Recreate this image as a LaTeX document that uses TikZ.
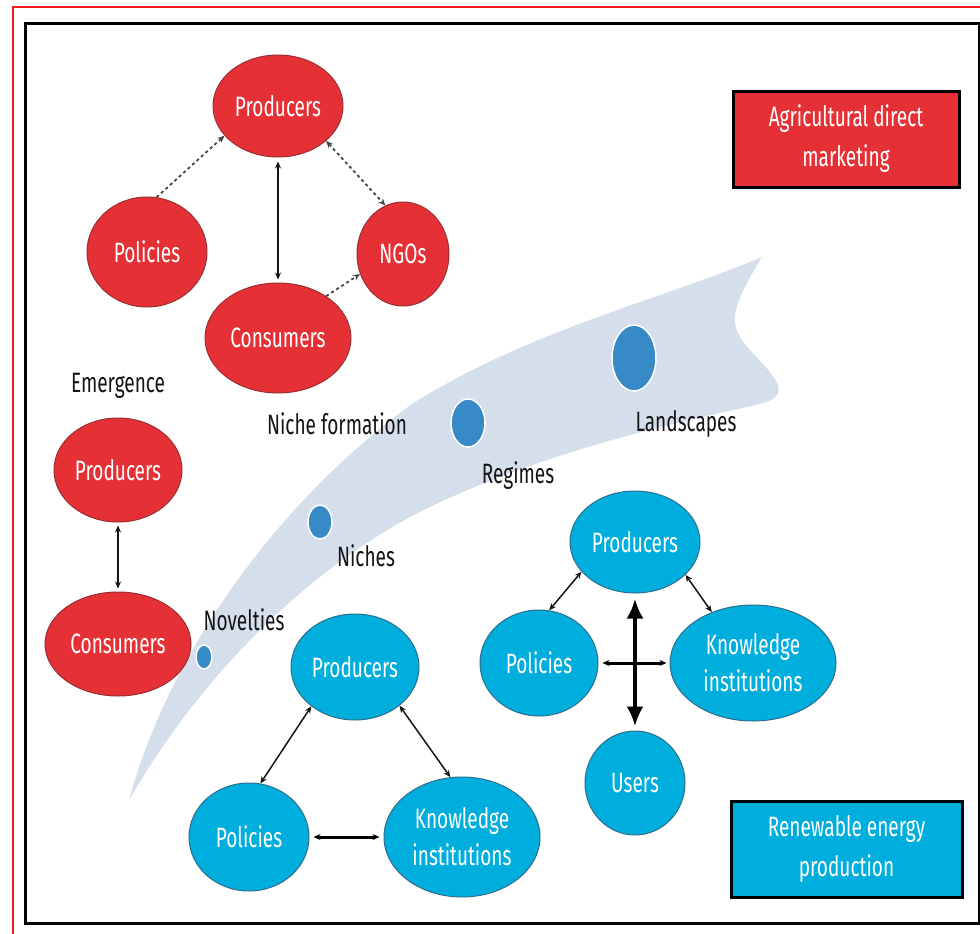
\documentclass[tikz,border=0pt]{standalone}
\usepackage{fontspec}
\setmainfont[FakeStretch=0.68]{Fira Sans}
\usetikzlibrary{shapes.geometric,arrows.meta}
\definecolor{agred}{HTML}{E53136}
\definecolor{agredline}{HTML}{9A2E32}
\definecolor{rebl}{HTML}{00AEDE}
\definecolor{reblline}{HTML}{2E6E8C}
\definecolor{dotbl}{HTML}{378AC6}
\definecolor{swoosh}{HTML}{D5DEEB}
\definecolor{framered}{HTML}{F01E1E}
\definecolor{ink}{HTML}{151515}

\begin{document}
\begin{tikzpicture}[x=1pt,y=-1pt,
  >={Stealth[length=7pt,width=6pt]},
  actor/.style={ellipse, inner sep=0pt, line width=1pt, text=white, align=center,
    font=\fontsize{28}{37}\selectfont},
  redact/.style={actor, fill=agred, draw=agredline},
  blueact/.style={actor, fill=rebl, draw=reblline},
  stagedot/.style={ellipse, inner sep=0pt, fill=dotbl, draw=white, line width=1.5pt},
  caption/.style={text=ink, inner sep=0pt, font=\fontsize{28}{37}\selectfont},
  legendbox/.style={draw=black, line width=3pt, text=white, align=center, inner sep=0pt,
    font=\fontsize{28}{40}\selectfont},
  link/.style={draw=ink, line width=1pt},
  dotlink/.style={draw=ink!80, line width=1.8pt, dash pattern=on 3pt off 3pt},
  boldlink/.style={draw=black, line width=3pt}
]
\useasboundingbox (0,0) rectangle (980,934);
\clip (0,0) rectangle (980,934);
\fill[white] (0,0) rectangle (980,934);

% outer frames
\draw[framered, line width=1.5pt] (990,7) -- (13,7) -- (13,944);
\draw[black, line width=3pt] (25,24) rectangle (979,923);

% transition swoosh
\fill[swoosh] (129,800) .. controls (170,650) and (280,500) .. (412,404)
  .. controls (530,330) and (660,300) .. (762,257)
  .. controls (748,280) and (733,305) .. (735,323)
  .. controls (737,345) and (770,365) .. (778,385)
  .. controls (782,398) and (770,402) .. (747,407)
  .. controls (650,428) and (520,460) .. (412,516)
  .. controls (320,565) and (210,660) .. (129,800) -- cycle;

% stage markers along the swoosh
\node[stagedot, minimum width=16pt, minimum height=24pt] (novdot) at (204,657) {};
\node[stagedot, minimum width=24pt, minimum height=34pt] (nichedot) at (320,522) {};
\node[stagedot, minimum width=34pt, minimum height=48pt] (regdot) at (468,423) {};
\node[stagedot, minimum width=44pt, minimum height=66pt] (landdot) at (634,358) {};

\node[caption] (tnov) at (244,620) {Novelties};
\node[caption] (tniche) at (366,556) {Niches};
\node[caption] (tnf) at (337,424) {Niche formation};
\node[caption] (treg) at (518,476) {Regimes};
\node[caption] (tland) at (686,424) {Landscapes};
\node[caption] (temerg) at (118,386) {Emergence};

% agricultural direct marketing network
\node[redact, minimum width=130pt, minimum height=102pt] (rp) at (278,106) {Producers};
\node[redact, minimum width=120pt, minimum height=110pt] (rpol) at (147,252) {Policies};
\node[redact, minimum width=92pt, minimum height=104pt] (rngo) at (403,254) {NGOs};
\node[redact, minimum width=146pt, minimum height=110pt] (rcon) at (278,338) {Consumers};

\draw[dotlink, ->] (rpol.80) -- (rp.209);
\draw[dotlink, <->] (rp.324) -- (rngo.110);
\draw[dotlink, ->] (rcon.41) -- (rngo.205);
\draw[link, <->, line width=1.5pt] ([yshift=-4pt]rp.south) -- ([yshift=3pt]rcon.north);

% emergence pair
\node[redact, minimum width=128pt, minimum height=104pt] (ep) at (118,470) {Producers};
\node[redact, minimum width=146pt, minimum height=104pt] (ec) at (118,644) {Consumers};
\draw[link, <->, line width=2pt] ([yshift=-3pt]ep.south) -- ([yshift=3pt]ec.north);

% niche network
\node[blueact, minimum width=128pt, minimum height=106pt] (bp1) at (355,667) {Producers};
\node[blueact, minimum width=120pt, minimum height=108pt] (bpol1) at (249,837) {Policies};
\node[blueact, minimum width=156pt, minimum height=120pt] (bk1) at (462,837) {Knowledge\\institutions};
\draw[link, <->, line width=1.5pt] (bp1.222) -- (bpol1.78);
\draw[link, <->, line width=1.5pt] (bp1.319) -- (bk1.101);
\draw[boldlink, <->] ([xshift=4pt]bpol1.east) -- ([xshift=-4pt]bk1.west);

% regime network
\node[blueact, minimum width=130pt, minimum height=102pt] (bp2) at (635,542) {Producers};
\node[blueact, minimum width=118pt, minimum height=106pt] (bpol2) at (539,663) {Policies};
\node[blueact, minimum width=166pt, minimum height=116pt] (bk2) at (753,663) {Knowledge\\institutions};
\node[blueact, minimum width=100pt, minimum height=104pt] (bu2) at (635,783) {Users};
\draw[link, <->, line width=1.5pt] (bp2.209) -- (bpol2.79);
\draw[link, <->, line width=1.5pt] (bp2.327) -- (bk2.129);
\draw[boldlink, <->] ([xshift=4pt]bpol2.east) -- ([xshift=-3pt]bk2.west);
\draw[draw=black, line width=4.5pt, {Latex[length=20pt,width=17pt]}-{Latex[length=20pt,width=17pt]}]
  ([yshift=-5pt]bp2.south) -- ([yshift=4pt]bu2.north);

% legend boxes
\node[legendbox, fill=agred, minimum width=226pt, minimum height=96pt] (legag) at (846,139)
  {Agricultural direct\\marketing};
\node[legendbox, fill=rebl, minimum width=231pt, minimum height=96pt] (legre) at (846.5,849)
  {Renewable energy\\production};
\end{tikzpicture}
\end{document}
